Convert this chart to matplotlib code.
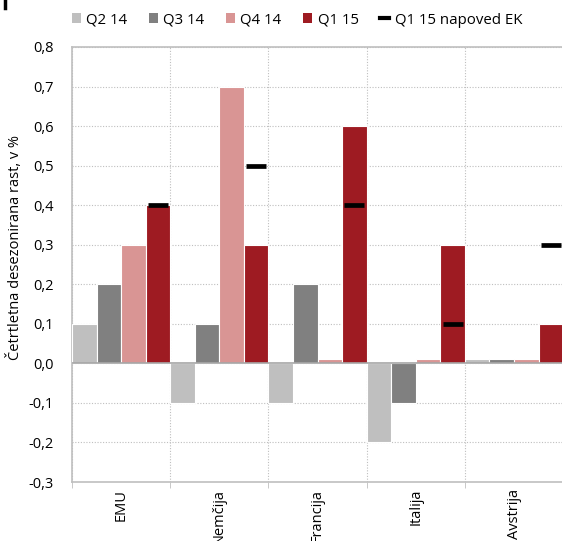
import matplotlib
matplotlib.use("Agg")
import matplotlib.pyplot as plt
import numpy as np
from matplotlib.lines import Line2D
from matplotlib.patches import Patch

plt.rcParams['font.family'] = ['Open Sans', 'DejaVu Sans']

categories = ["EMU", "Nemčija", "Francija", "Italija", "Avstrija"]
series_names = ["Q2 14", "Q3 14", "Q4 14", "Q1 15"]
q2_14 = [0.1, -0.1, -0.1, -0.2, 0.01]
q3_14 = [0.2, 0.1, 0.2, -0.1, 0.01]
q4_14 = [0.3, 0.7, 0.01, 0.01, 0.01]
q1_15 = [0.4, 0.3, 0.6, 0.3, 0.1]
forecast_name = "Q1 15 napoved EK"
q1_15_forecast = [0.4, 0.5, 0.4, 0.1, 0.3]
colors = ["#BFBFBF", "#808080", "#D99594", "#9E1B22"]
yticks = [-0.3, -0.2, -0.1, 0.0, 0.1, 0.2, 0.3, 0.4, 0.5, 0.6, 0.7, 0.8]

W, H = 562, 541
fig = plt.figure(figsize=(W / 100, H / 100), dpi=100)
ax = fig.add_axes([72 / W, (H - 482) / H, (562 - 72) / W + 0.002, 435 / H])

n = len(categories)
x = np.arange(n)
bw = 0.25
all_series = [q2_14, q3_14, q4_14, q1_15]
for i, (vals, c) in enumerate(zip(all_series, colors)):
    ax.bar(x - 0.5 + bw * (i + 0.5), vals, width=bw, color=c,
           edgecolor="white", linewidth=0.8, zorder=3)

ax.plot(x - 0.5 + bw * 3.5, q1_15_forecast, linestyle="none", marker="_",
        markersize=14, markeredgewidth=3.4, color="black", zorder=4)

ax.set_xlim(-0.5, n - 0.5)
ax.set_ylim(-0.3, 0.8)
ax.set_yticks(yticks)
ax.set_yticklabels([f"{v:.1f}".replace(".", ",") for v in yticks], fontsize=10.5)
ax.set_xticks(x)
ax.set_xticklabels(categories, rotation=90, fontsize=10.5, va="top")
ax.tick_params(axis="y", length=0, pad=13)
ax.tick_params(axis="x", length=0, pad=5)

ax.set_xticks(np.arange(n + 1) - 0.5, minor=True)
ax.tick_params(axis="x", which="minor", length=4, color="#BFBFBF", direction="out")
ax.grid(False)
ax.yaxis.grid(True, color="#BFBFBF", linestyle=(0, (1, 1.5)), linewidth=0.8, zorder=0)
ax.xaxis.grid(True, which="minor", color="#BFBFBF", linestyle=(0, (1, 1.5)), linewidth=0.8, zorder=0)
ax.axhline(0, color="#A6A6A6", linewidth=1.2, zorder=5)

for s in ["left", "top", "bottom"]:
    ax.spines[s].set_color("#BFBFBF")
    ax.spines[s].set_linewidth(1.2)
ax.spines["right"].set_visible(False)

fig.text(15 / W, 1 - 248 / H, "Četrtletna desezonirana rast, v %", rotation=90,
         ha="center", va="center", fontsize=10.5)

handles = [Patch(facecolor=c, edgecolor="none") for c in colors]
handles.append(Line2D([0], [0], color="black", linewidth=3))
labels = series_names + [forecast_name]
fig.legend(handles, labels, loc="center left", bbox_to_anchor=(66 / W, 1 - 20 / H),
           ncol=5, frameon=False, fontsize=10.8, handlelength=0.6, handleheight=0.6,
           handletextpad=0.35, columnspacing=1.45, borderaxespad=0)

fig.add_artist(Line2D([5 / W, 5 / W], [1, 1 - 8 / H], color="black", linewidth=2.5))

fig.savefig("out.png", dpi=100)
